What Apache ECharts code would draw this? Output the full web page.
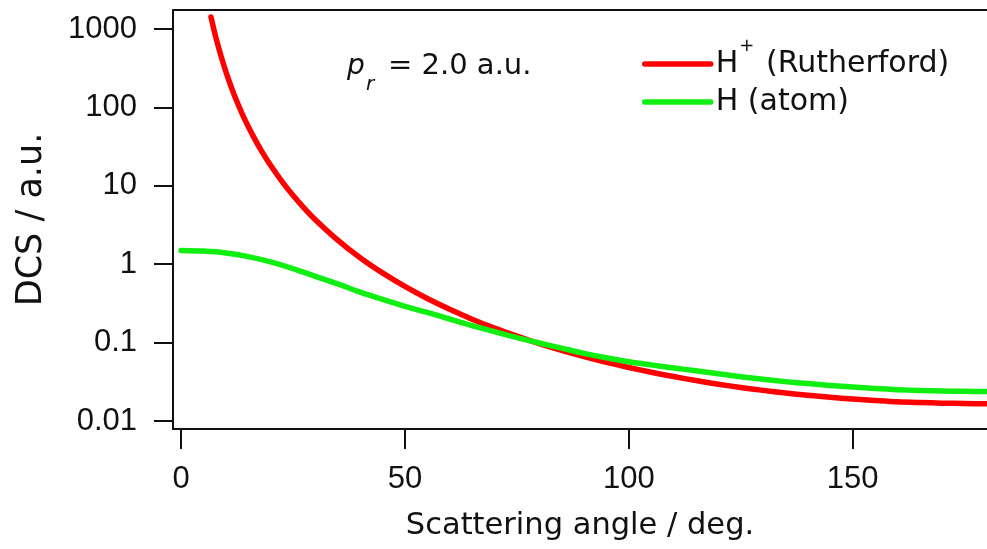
<!DOCTYPE html>
<html>
<head>
<meta charset="utf-8">
<script src="https://cdn.jsdelivr.net/npm/echarts@6/dist/echarts.min.js"></script>
<style>
html,body{margin:0;padding:0;background:#fff;}
#chart{width:987px;height:549px;}
</style>
</head>
<body>
<div id="chart"></div>
<script>
// ---- data ----
var xTicks = [0, 50, 100, 150];
var yTicks = [0.01, 0.1, 1, 10, 100, 1000];

var redName = 'H+ (Rutherford)';
var greenName = 'H (atom)';

var redAngles = [6.7, 7, 7.5, 8, 9, 10, 11, 12, 14, 16, 18, 20, 22.5, 25, 27.5, 30, 35, 40, 45, 50, 55, 60, 65, 70, 75, 80, 85, 90, 95, 100, 105, 110, 115, 120, 125, 130, 135, 140, 145, 150, 155, 160, 165, 170, 175, 180];
var redValues = [1420, 1195, 907, 701, 438, 288, 197, 139, 75.2, 44.3, 27.7, 18.3, 11.5, 7.56, 5.20, 3.70, 2.03, 1.21, 0.774, 0.52, 0.365, 0.266, 0.199, 0.153, 0.121, 0.0972, 0.0797, 0.0664, 0.0562, 0.0482, 0.0419, 0.0369, 0.0328, 0.0295, 0.0268, 0.0246, 0.0228, 0.0213, 0.0201, 0.0191, 0.0183, 0.0176, 0.0172, 0.0169, 0.0167, 0.0166];

var greenAngles = [0, 5, 10, 15, 20, 25, 30, 35, 40, 45, 50, 55, 60, 65, 70, 75, 80, 85, 90, 95, 100, 105, 110, 115, 120, 125, 130, 135, 140, 145, 150, 155, 160, 165, 170, 175, 180];
var greenValues = [1.50, 1.47, 1.39, 1.25, 1.07, 0.88, 0.70, 0.56, 0.44, 0.355, 0.29, 0.243, 0.200, 0.165, 0.138, 0.116, 0.099, 0.085, 0.073, 0.064, 0.057, 0.052, 0.0475, 0.0437, 0.0400, 0.0367, 0.0340, 0.0318, 0.0300, 0.0284, 0.0271, 0.0260, 0.0251, 0.0245, 0.0241, 0.0239, 0.0238];

function pairs(xs, ys) { return xs.map(function (x, i) { return [x, ys[i]]; }); }

var TICK_FONT = 'Liberation Sans, Arial, sans-serif';
var TEXT_FONT = 'DejaVu Sans, sans-serif';
var AXIS_COLOR = '#111';
var RED = '#ff0000';
var GREEN = '#11ee11';

var chart = echarts.init(document.getElementById('chart'), null, {renderer: 'canvas'});

var option = {
  animation: false,
  backgroundColor: '#fff',
  grid: {left: 173, right: 0, top: 10, bottom: 120, containLabel: false, outerBoundsMode: 'none'},
  legend: {
    orient: 'vertical',
    left: 642,
    top: 37,
    padding: 0,
    itemWidth: 66,
    itemHeight: 20,
    itemGap: 8,
    data: [redName, greenName],
    lineStyle: {width: 5.5, cap: 'round'},
    itemStyle: {opacity: 0, borderWidth: 0},
    formatter: function (name) {
      if (name === redName) return '{m|H}{sup|+}{m| (Rutherford)}';
      return '{m|H (atom)}';
    },
    textStyle: {
      fontFamily: TEXT_FONT, fontSize: 30, color: '#111',
      rich: {
        m: {fontFamily: TEXT_FONT, fontSize: 30, color: '#111'},
        sup: {fontFamily: TEXT_FONT, fontSize: 18, lineHeight: 18, color: '#111', verticalAlign: 'top', padding: [-12, 2, 0, 1]}
      }
    }
  },
  xAxis: [{
    type: 'value',
    min: -1.786,
    max: 180,
    position: 'bottom',
    name: 'Scattering angle / deg.',
    nameLocation: 'middle',
    nameGap: 82,
    nameTextStyle: {fontFamily: TEXT_FONT, fontSize: 30.5, color: '#111'},
    axisLine: {show: true, onZero: false, lineStyle: {color: AXIS_COLOR, width: 2}},
    axisTick: {show: true, inside: false, length: 20, customValues: xTicks, lineStyle: {color: AXIS_COLOR, width: 2}},
    axisLabel: {show: true, customValues: xTicks, margin: 35, fontFamily: TICK_FONT, fontSize: 31, color: '#111'},
    splitLine: {show: false}
  }, {
    type: 'value',
    min: -1.786,
    max: 180,
    position: 'top',
    axisLine: {show: true, onZero: false, lineStyle: {color: AXIS_COLOR, width: 2}},
    axisTick: {show: false},
    axisLabel: {show: false},
    splitLine: {show: false}
  }],
  yAxis: [{
    type: 'log',
    logBase: 10,
    min: 0.00791,
    max: 1746,
    position: 'left',
    name: 'DCS / a.u.',
    nameLocation: 'middle',
    nameGap: 124,
    nameTextStyle: {fontFamily: TEXT_FONT, fontSize: 35, color: '#111'},
    axisLine: {show: true, onZero: false, lineStyle: {color: AXIS_COLOR, width: 2}},
    axisTick: {show: true, inside: false, length: 19, customValues: yTicks, lineStyle: {color: AXIS_COLOR, width: 2}},
    axisLabel: {
      show: true, customValues: yTicks, margin: 36, fontFamily: TICK_FONT, fontSize: 31, color: '#111',
      formatter: function (v) { return String(+v.toPrecision(6)); }
    },
    splitLine: {show: false},
    minorTick: {show: false}
  }],
  graphic: [
    {type: 'text', left: 347, top: 53, style: {text: 'p', font: 'italic 28px ' + TEXT_FONT, fill: '#111'}},
    {type: 'text', left: 366, top: 75, style: {text: 'r', font: 'italic 20px ' + TEXT_FONT, fill: '#111'}},
    {type: 'text', left: 388, top: 52, style: {text: '= 2.0 a.u.', font: '29px ' + TEXT_FONT, fill: '#111'}}
  ],
  series: [{
    name: redName,
    type: 'line',
    xAxisIndex: 0,
    yAxisIndex: 0,
    data: pairs(redAngles, redValues),
    showSymbol: false,
    symbol: 'none',
    smooth: 0.3,
    lineStyle: {color: RED, width: 5.5, cap: 'round', join: 'round'},
    itemStyle: {color: RED},
    z: 2
  }, {
    name: greenName,
    type: 'line',
    xAxisIndex: 0,
    yAxisIndex: 0,
    data: pairs(greenAngles, greenValues),
    showSymbol: false,
    symbol: 'none',
    smooth: 0.3,
    lineStyle: {color: GREEN, width: 5.5, cap: 'round', join: 'round'},
    itemStyle: {color: GREEN},
    z: 3
  }]
};
chart.setOption(option);
</script>
</body>
</html>
